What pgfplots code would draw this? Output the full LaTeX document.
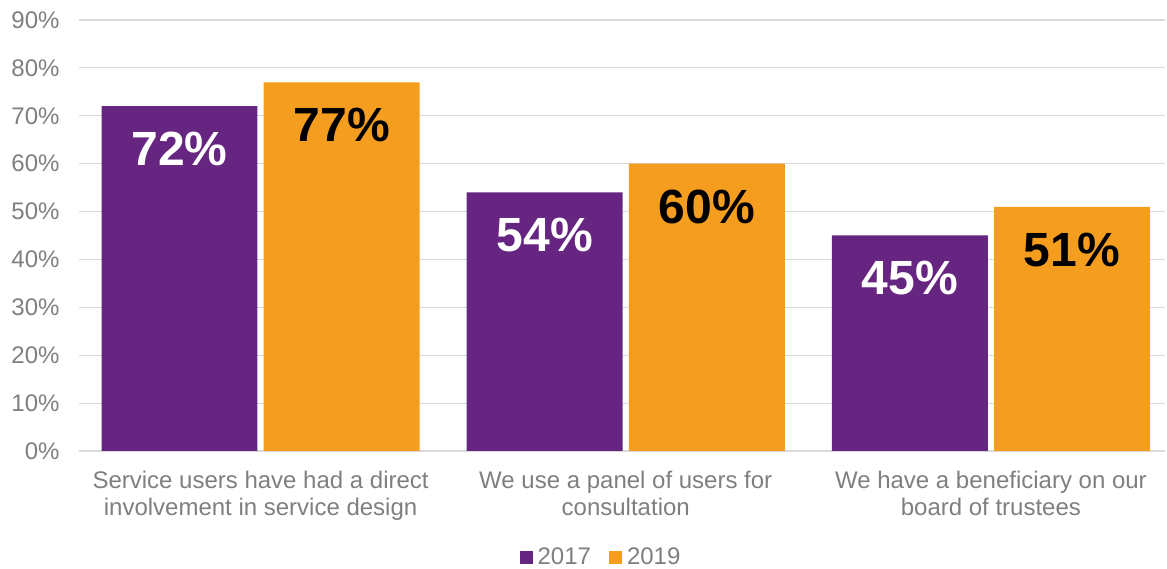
\documentclass[border=0pt]{standalone}
\usepackage{fontspec}
\setmainfont{Liberation Sans}
\usepackage{pgfplots}
\pgfplotsset{compat=1.18}
\definecolor{purp}{HTML}{652580}
\definecolor{orng}{HTML}{F59D1F}
\definecolor{txtgray}{HTML}{7F7F7F}
\definecolor{gridgray}{HTML}{D9D9D9}
\begin{document}
\begin{tikzpicture}
\useasboundingbox (-79pt,-118pt) rectangle (1088pt,451pt);
\begin{axis}[
  at={(0,0)}, anchor=south west,
  scale only axis, width=1086pt, height=431pt,
  ymin=0, ymax=90, ytick={0,10,...,90},
  xmin=-0.4973, xmax=2.4767,
  xtick={0,1,2},
  xticklabels={Service users have had a direct\\involvement in service design,
               We use a panel of users for\\consultation,
               We have a beneficiary on our\\board of trustees},
  xticklabel style={align=center, yshift=-17pt},
  yticklabel={\pgfmathprintnumber{\tick}\%},
  yticklabel style={xshift=-16pt},
  /pgf/number format/assume math mode=true,
  tick label style={font=\fontsize{24}{27}\selectfont, text=txtgray},
  axis line style={draw=none},
  major tick length=0pt,
  ymajorgrids, grid style={gridgray, line width=1.2pt},
  ybar, bar width=0.427,
  legend style={at={(0.4807,-0.246)}, anchor=center, draw=none,
    font=\fontsize{24}{27}\selectfont, text=txtgray,
    legend columns=2,
    /tikz/every odd column/.append style={column sep=3pt},
    /tikz/every even column/.append style={column sep=16pt}},
  legend image code/.code={\fill[#1] (0pt,-6.5pt) rectangle (13pt,6.5pt);},
]
\addplot[fill=purp, draw=none, bar shift=-0.222,
  nodes near coords={\pgfmathprintnumber{\pgfplotspointmeta}\%},
  every node near coord/.append style={font=\fontsize{48}{50}\selectfont\bfseries,
    text=white, anchor=center, yshift=-43pt}]
  coordinates {(0,72) (1,54) (2,45)};
\addplot[fill=orng, draw=none, bar shift=0.222,
  nodes near coords={\pgfmathprintnumber{\pgfplotspointmeta}\%},
  every node near coord/.append style={font=\fontsize{48}{50}\selectfont\bfseries,
    text=black, anchor=center, yshift=-43pt}]
  coordinates {(0,77) (1,60) (2,51)};
\legend{2017,2019}
\end{axis}
\end{tikzpicture}
\end{document}
